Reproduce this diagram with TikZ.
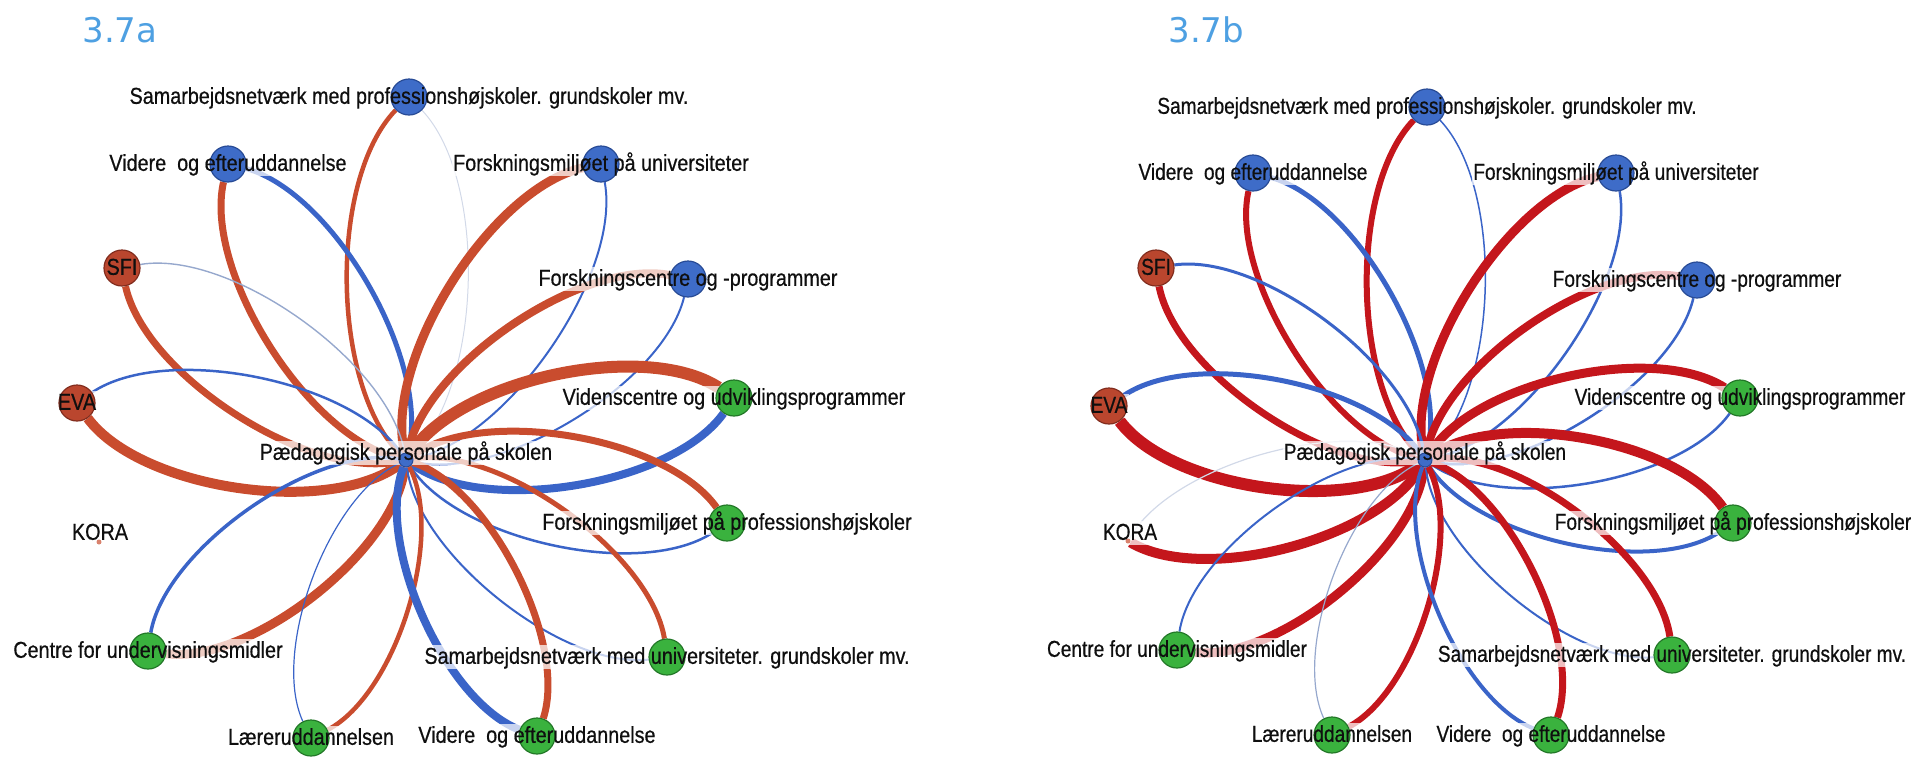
\documentclass[tikz,border=0pt]{standalone}
\usepackage{fontspec}
\setmainfont{Liberation Sans}[FakeStretch=0.86, FakeBold=0.6]
\newfontfamily\narrowlabels{Liberation Sans}[FakeStretch=0.83, FakeBold=0.6]
\newfontfamily\titlefont{DejaVu Sans}

\pgfdeclarelayer{edgelayer}
\pgfdeclarelayer{boxlayer}
\pgfdeclarelayer{textlayer}
\pgfsetlayers{edgelayer,boxlayer,main,textlayer}

\definecolor{redA}{RGB}{201,76,46}
\definecolor{redB}{RGB}{196,22,28}
\definecolor{edgeblue}{RGB}{58,100,200}
\definecolor{paleblue}{RGB}{210,217,232}
\definecolor{greyblue}{RGB}{150,168,205}
\definecolor{nodeblue}{RGB}{62,108,200}
\definecolor{nodebluedark}{RGB}{40,75,150}
\definecolor{nodegreen}{RGB}{58,178,62}
\definecolor{nodegreendark}{RGB}{35,120,40}
\definecolor{nodebrown}{RGB}{186,70,46}
\definecolor{nodebrowndark}{RGB}{130,45,30}
\definecolor{titleblue}{RGB}{78,160,226}
\definecolor{labelink}{RGB}{15,15,15}

% label face; switched to a narrower cut for the second panel
\newcommand\labelface{\normalfont}

\tikzset{
  vertex/.style={circle, minimum size=18pt, inner sep=0pt, line width=0.6pt},
  bluev/.style={vertex, fill=nodeblue, draw=nodebluedark},
  greenv/.style={vertex, fill=nodegreen, draw=nodegreendark},
  brownv/.style={vertex, fill=nodebrown, draw=nodebrowndark},
  hubv/.style={circle, minimum size=7pt, inner sep=0pt, fill=nodeblue, draw=nodebluedark, line width=0.5pt},
  dotv/.style={circle, minimum size=2.5pt, inner sep=0pt, fill=redA!70},
  flow/.style={bend left=45, looseness=0.72},
  lbl/.style={font=\labelface\fontsize{11.5}{13}\selectfont, text=labelink, inner sep=0.6pt, text height=0.9em, text depth=0.22em},
  lblbox/.style={lbl, fill=white, fill opacity=0.72, text opacity=0},
  paneltitle/.style={font=\titlefont\fontsize{17}{20}\selectfont, text=titleblue, inner sep=0pt, anchor=base west}
}

% vertex: name, style, vertex position, label position, label text
\newcommand\vtx[5]{%
  \node[#2] (#1) at #3 {};
  \begin{pgfonlayer}{boxlayer}\node[lblbox] (#1-b) at #4 {#5};\end{pgfonlayer}
  \begin{pgfonlayer}{textlayer}\node[lbl] (#1-l) at #4 {#5};\end{pgfonlayer}
}
% pair of arcs: hub, vertex, outgoing colour, width, incoming colour, width
\newcommand\petal[6]{%
  \begin{pgfonlayer}{edgelayer}
    \draw[#3, line width=#4, flow] (#1) to (#2);
    \draw[#5, line width=#6, flow] (#2) to (#1);
  \end{pgfonlayer}
}

\begin{document}
\begin{tikzpicture}[x=0.5pt, y=-0.5pt]
\useasboundingbox (0,0) rectangle (1912,757);

% ---------- 3.7a ----------
\node[paneltitle] (titleA) at (82,42) {3.7a};

\vtx{hubA}{hubv}{(406,460)}{(406,453)}{Pædagogisk personale på skolen}
\vtx{topA}{bluev}{(409,97)}{(409,97)}{Samarbejdsnetværk med professionshøjskoler. grundskoler mv.}
\vtx{vidA}{bluev}{(228,164)}{(228,164)}{Videre~~og efteruddannelse}
\vtx{fuA}{bluev}{(601,164)}{(601,164)}{Forskningsmiljøet på universiteter}
\vtx{sfiA}{brownv}{(122,268)}{(122,268)}{SFI}
\vtx{fcA}{bluev}{(688,279)}{(688,279)}{Forskningscentre og -programmer}
\vtx{evaA}{brownv}{(77,403)}{(77,403)}{EVA}
\vtx{vcA}{greenv}{(734,398)}{(734,398)}{Videnscentre og udviklingsprogrammer}
\vtx{koraA}{dotv}{(99,542)}{(100,533)}{KORA}
\vtx{fpA}{greenv}{(727,523)}{(727,523)}{Forskningsmiljøet på professionshøjskoler}
\vtx{cuA}{greenv}{(148,651)}{(148,651)}{Centre for undervisningsmidler}
\vtx{suA}{greenv}{(667,657)}{(667,657)}{Samarbejdsnetværk med universiteter. grundskoler mv.}
\vtx{luA}{greenv}{(311,738)}{(311,738)}{Læreruddannelsen}
\vtx{vbA}{greenv}{(537,736)}{(537,736)}{Videre~~og efteruddannelse}

\petal{hubA}{topA}{redA}{2.25pt}{paleblue}{0.5pt}
\petal{hubA}{vidA}{redA}{3.5pt}{edgeblue}{2.5pt}
\petal{hubA}{fuA}{redA}{4.5pt}{edgeblue}{1pt}
\petal{hubA}{sfiA}{redA}{3.5pt}{greyblue}{0.7pt}
\petal{hubA}{fcA}{redA}{4pt}{edgeblue}{1pt}
\petal{hubA}{evaA}{redA}{5pt}{edgeblue}{1.25pt}
\petal{hubA}{vcA}{redA}{6pt}{edgeblue}{4pt}
\petal{hubA}{fpA}{redA}{3.5pt}{edgeblue}{1.25pt}
\petal{hubA}{cuA}{redA}{4.5pt}{edgeblue}{1.75pt}
\petal{hubA}{suA}{redA}{2.5pt}{edgeblue}{1pt}
\petal{hubA}{luA}{redA}{2.25pt}{edgeblue}{0.6pt}
\petal{hubA}{vbA}{redA}{3.5pt}{edgeblue}{4pt}

% ---------- 3.7b ----------
\renewcommand\labelface{\narrowlabels}
\node[paneltitle] (titleB) at (1168,42) {3.7b};

\vtx{hubB}{hubv}{(1425,460)}{(1425,453)}{Pædagogisk personale på skolen}
\vtx{topB}{bluev}{(1427,107)}{(1427,107)}{Samarbejdsnetværk med professionshøjskoler. grundskoler mv.}
\vtx{vidB}{bluev}{(1253,173)}{(1253,173)}{Videre~~og efteruddannelse}
\vtx{fuB}{bluev}{(1616,173)}{(1616,173)}{Forskningsmiljøet på universiteter}
\vtx{sfiB}{brownv}{(1156,268)}{(1156,268)}{SFI}
\vtx{fcB}{bluev}{(1697,280)}{(1697,280)}{Forskningscentre og -programmer}
\vtx{evaB}{brownv}{(1109,406)}{(1109,406)}{EVA}
\vtx{vcB}{greenv}{(1740,398)}{(1740,398)}{Videnscentre og udviklingsprogrammer}
\vtx{koraB}{dotv}{(1128,541)}{(1130,533)}{KORA}
\vtx{fpB}{greenv}{(1733,523)}{(1733,523)}{Forskningsmiljøet på professionshøjskoler}
\vtx{cuB}{greenv}{(1177,650)}{(1177,650)}{Centre for undervisningsmidler}
\vtx{suB}{greenv}{(1672,655)}{(1672,655)}{Samarbejdsnetværk med universiteter. grundskoler mv.}
\vtx{luB}{greenv}{(1332,735)}{(1332,735)}{Læreruddannelsen}
\vtx{vbB}{greenv}{(1551,735)}{(1551,735)}{Videre~~og efteruddannelse}

\petal{hubB}{topB}{redB}{3pt}{edgeblue}{0.75pt}
\petal{hubB}{vidB}{redB}{3pt}{edgeblue}{2.5pt}
\petal{hubB}{fuB}{redB}{4.5pt}{edgeblue}{1.25pt}
\petal{hubB}{sfiB}{redB}{3.5pt}{edgeblue}{1.5pt}
\petal{hubB}{fcB}{redB}{4pt}{edgeblue}{1.25pt}
\petal{hubB}{evaB}{redB}{6pt}{edgeblue}{2.5pt}
\petal{hubB}{vcB}{redB}{4.5pt}{edgeblue}{1.25pt}
\petal{hubB}{koraB}{redB}{5pt}{paleblue}{0.6pt}
\petal{hubB}{fpB}{redB}{5pt}{edgeblue}{2pt}
\petal{hubB}{cuB}{redB}{4.5pt}{edgeblue}{1pt}
\petal{hubB}{suB}{redB}{3.5pt}{edgeblue}{1pt}
\petal{hubB}{luB}{redB}{3pt}{greyblue}{0.6pt}
\petal{hubB}{vbB}{redB}{3.5pt}{edgeblue}{2pt}
\end{tikzpicture}
\end{document}
